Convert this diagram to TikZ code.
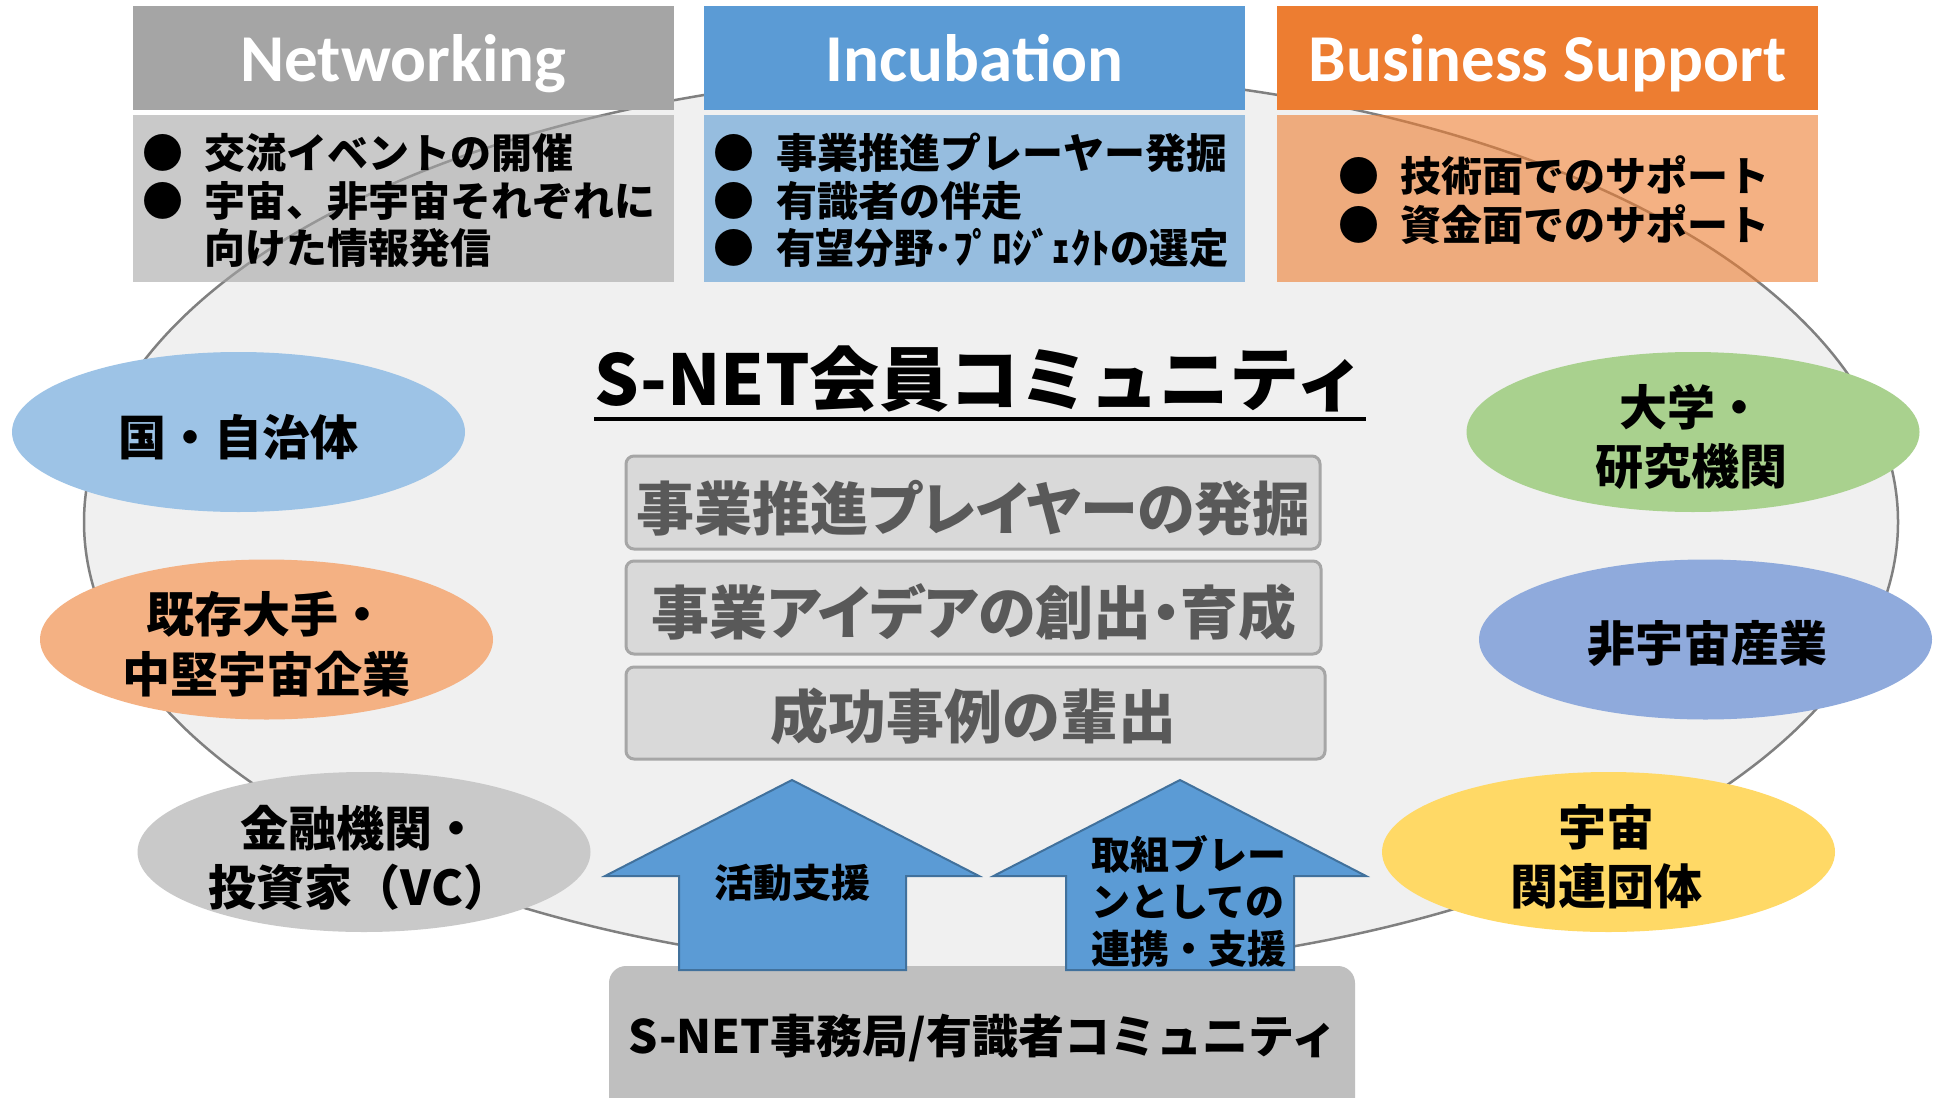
\documentclass[tikz,border=0pt]{standalone}
\usepackage{fontspec}
\setmainfont{Noto Sans CJK JP}
\newfontfamily\jp{Noto Sans CJK JP}
\newfontfamily\jpp{Noto Sans CJK JP}[RawFeature=+palt]
\newfontfamily\jpn{Noto Sans CJK JP}[FakeStretch=0.96]
\newfontfamily\hd{Carlito}
\usetikzlibrary{shapes.geometric}
\definecolor{bigfill}{HTML}{F0F0F0}
\definecolor{bigline}{HTML}{808080}
\definecolor{netH}{HTML}{A5A5A5}
\definecolor{incH}{HTML}{5B9BD5}
\definecolor{bsH}{HTML}{ED7D31}
\definecolor{eBlue}{HTML}{9DC3E6}
\definecolor{eOrange}{HTML}{F4B183}
\definecolor{eGray}{HTML}{C9C9C9}
\definecolor{eGreen}{HTML}{A9D18E}
\definecolor{eBlueB}{HTML}{8FAADC}
\definecolor{eYellow}{HTML}{FFD966}
\definecolor{boxFill}{HTML}{D9D9D9}
\definecolor{boxLine}{HTML}{A6A6A6}
\definecolor{boxText}{HTML}{595959}
\definecolor{arrFill}{HTML}{5B9BD5}
\definecolor{arrLine}{HTML}{41719C}
\definecolor{botFill}{HTML}{BFBFBF}
\begin{document}
\begin{tikzpicture}[x=0.5pt,y=-0.5pt,
  every node/.style={inner sep=0pt,outer sep=0pt},
  hdr/.style={anchor=north west,minimum width=270.5pt,minimum height=52.25pt,
    text height=30pt,text depth=6.85pt,text=white,font=\hd\bfseries\fontsize{33.5}{40}\selectfont},
  bodybox/.style={anchor=north west,minimum width=270.5pt,minimum height=83.5pt,fill opacity=0.6},
  bul/.style={anchor=base,font=\jp\bfseries\fontsize{20.5}{24}\selectfont},
  btxt/.style={anchor=base west,font=\jp\bfseries\fontsize{20.5}{24}\selectfont},
  member/.style={ellipse,minimum width=226.5pt,minimum height=80pt},
  etxt/.style={align=center,font=\jp\bfseries\fontsize{24}{29.75}\selectfont},
  gbox/.style={draw=boxLine,fill=boxFill,line width=1.5pt,rounded corners=4pt,minimum height=46.5pt},
  gtxt/.style={text=boxText,font=\jpp\bfseries\fontsize{29}{35}\selectfont},
  bigarrow/.style={draw=arrLine,fill=arrFill,line width=1pt,line join=miter},
  atxt/.style={font=\jp\bfseries\fontsize{19.5}{23.5}\selectfont}
]
\useasboundingbox (0,0) rectangle (1941,1097);
\fill[white] (0,0) rectangle (1941,1097);

% community ellipse
\node[ellipse,draw=bigline,fill=bigfill,line width=1.25pt,minimum width=907pt,minimum height=450pt] (big) at (991,522) {};

% headers
\node[hdr,fill=netH] (hnet) at (133,6) {Networking};
\node[hdr,fill=incH] (hinc) at (704,6) {Incubation};
\node[hdr,fill=bsH] (hbs) at (1277,6) {Business Support};

% bodies
\node[bodybox,fill=netH] (bnet) at (133,115) {};
\node[bodybox,fill=incH] (binc) at (704,115) {};
\node[bodybox,fill=bsH] (bbs) at (1277,115) {};

\node[bul] (nb1) at (163,168) {●};
\node[btxt] (nt1) at (204,168) {交流イベントの開催};
\node[bul] (nb2) at (163,216) {●};
\node[btxt] (nt2) at (204,216) {宇宙、非宇宙それぞれに};
\node[btxt] (nt3) at (204,263) {向けた情報発信};

\node[bul] (ib1) at (734,168) {●};
\node[btxt] (it1) at (776,168) {事業推進プレーヤー発掘};
\node[bul] (ib2) at (734,216) {●};
\node[btxt] (it2) at (776,216) {有識者の伴走};
\node[bul] (ib3) at (734,263) {●};
\node[btxt,font=\jpn\bfseries\fontsize{20.5}{24}\selectfont] (it3) at (776,263) {有望分野･ﾌﾟﾛｼﾞｪｸﾄの選定};

\node[bul] (sb1) at (1359,191) {●};
\node[btxt] (st1) at (1400,191) {技術面でのサポート};
\node[bul] (sb2) at (1359,240) {●};
\node[btxt] (st2) at (1400,240) {資金面でのサポート};

% member ellipses
\node[member,fill=eBlue] (gov) at (238.5,432) {};
\node[etxt] (govt) at (238,437) {国・自治体};
\node[member,fill=eOrange] (ent) at (266.5,639.5) {};
\node[etxt] (entt) at (266,644) {既存大手・\\中堅宇宙企業};
\node[member,fill=eGray] (fin) at (364,852) {};
\node[etxt] (fint) at (360,858) {金融機関・\\投資家（VC）};
\node[member,fill=eGreen] (uni) at (1693,432) {};
\node[etxt] (unit) at (1691,437) {大学・\\研究機関};
\node[member,fill=eBlueB] (non) at (1705.5,639.5) {};
\node[etxt] (nont) at (1707,644) {非宇宙産業};
\node[member,fill=eYellow] (spc) at (1608.5,852) {};
\node[etxt] (spct) at (1606,857) {宇宙\\関連団体};

% title
\node[font=\jp\bfseries\fontsize{35}{42}\selectfont] (title) at (980,379.5) {S-NET会員コミュニティ};
\draw[line width=1.75pt] ([yshift=-3pt]title.south west) -- ([yshift=-3pt]title.south east);

% goal boxes
\node[gbox,minimum width=347pt] (g1) at (973,502.5) {};
\node[gtxt] (g1t) at (973.5,508.5) {事業推進プレイヤーの発掘};
\node[gbox,minimum width=347.5pt] (g2) at (973.5,607.5) {};
\node[gtxt] (g2t) at (974,612) {事業アイデアの創出・育成};
\node[gbox,minimum width=349.5pt,minimum height=46pt] (g3) at (975.5,713) {};
\node[gtxt] (g3t) at (973.5,716.5) {成功事例の輩出};

% secretariat box
\begin{scope}
\clip (0,0) rectangle (1941,1097);
\node[anchor=north west,fill=botFill,rounded corners=8.5pt,minimum width=373pt,minimum height=80pt] (bot) at (609,966) {};
\end{scope}
\node[font=\jp\bfseries\fontsize{23}{28}\selectfont] (bott) at (983,1038.5) {S-NET事務局/有識者コミュニティ};

% block arrows
\draw[bigarrow] (605,876) -- (792,780) -- (979,876) -- (906,876) -- (906,970) -- (679,970) -- (679,876) -- cycle;
\draw[bigarrow] (993.5,876) -- (1180,780) -- (1366,876) -- (1294,876) -- (1294,970) -- (1066,970) -- (1066,876) -- cycle;
\node[atxt] (a1t) at (792,883) {活動支援};
\node[atxt,anchor=west,align=left] (a2t) at (1091,901) {取組ブレー\\ンとしての\\連携・支援};
\end{tikzpicture}
\end{document}
